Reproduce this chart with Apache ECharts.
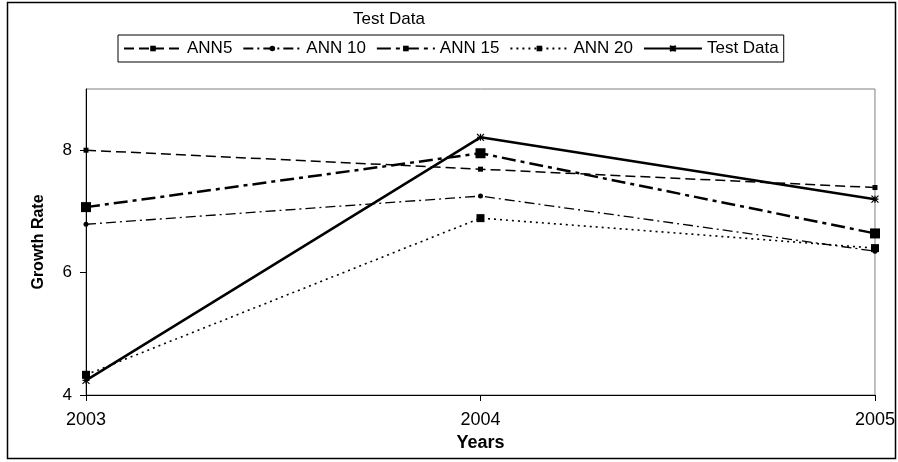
<!DOCTYPE html>
<html><head><meta charset="utf-8">
<script src="https://cdn.jsdelivr.net/npm/echarts@6/dist/echarts.min.js"></script>
<style>html,body{margin:0;padding:0;background:#fff}#c{width:898px;height:462px}</style>
</head><body><div id="c"></div>
<script>
const years = ['2003', '2004', '2005'];
const ann5 = [8.0, 7.69, 7.39];
const ann10 = [6.79, 7.25, 6.35];
const ann15 = [7.07, 7.95, 6.64];
const ann20 = [4.33, 6.89, 6.40];
const testData = [4.24, 8.21, 7.20];
const yTicks = [4, 6, 8];

const F = '"Liberation Sans", Arial, sans-serif';
const chart = echarts.init(document.getElementById('c'));
const star = 'path://M0,0L10,10M10,0L0,10M5,0L5,10M0,5L10,5';
function s(name, data, lw, type, symbol, size) {
  return {
    name, type: 'line', data, symbol, symbolSize: size,
    lineStyle: { color: '#000', width: lw, type: type },
    itemStyle: { color: '#000', borderColor: '#000', borderWidth: symbol === star ? 1.2 : 0 },
    emphasis: { disabled: true }, animation: false
  };
}
chart.setOption({
  animation: false,
  title: { text: 'Test Data', left: 384, top: 6, textAlign: 'center',
    textStyle: { fontFamily: F, fontSize: 17, fontWeight: 'normal', color: '#000' } },
  legend: {
    left: 118, top: 35,
    borderColor: '#000', borderWidth: 1, padding: [5, 5, 5, 5],
    itemWidth: 58, itemHeight: 7, itemGap: 10,
    textStyle: { fontFamily: F, fontSize: 17, color: '#000' },
    data: ['ANN5', 'ANN 10', 'ANN 15', 'ANN 20', 'Test Data']
  },
  graphic: [{ type: 'rect', shape: { x: 7.5, y: 2.5, width: 888, height: 456 },
    style: { fill: 'none', stroke: '#000', lineWidth: 1.5 }, silent: true, z: -1 }],
  grid: { left: 86, right: 23, top: 89, bottom: 67, show: true, borderColor: '#808080', borderWidth: 1 },
  xAxis: {
    type: 'category', data: years, boundaryGap: false,
    name: 'Years', nameLocation: 'middle', nameGap: 39,
    nameTextStyle: { fontFamily: F, fontSize: 18, fontWeight: 'bold', color: '#000' },
    axisLine: { lineStyle: { color: '#000', width: 1 } },
    axisTick: { show: true, length: 6, lineStyle: { color: '#000' } },
    axisLabel: { fontFamily: F, fontSize: 18, color: '#000', margin: 16 },
    splitLine: { show: false }
  },
  yAxis: {
    type: 'value', min: 4, max: 9, interval: 2,
    name: 'Growth Rate', nameLocation: 'middle', nameGap: 39, nameRotate: 90,
    nameTextStyle: { fontFamily: F, fontSize: 16, fontWeight: 'bold', color: '#000' },
    axisLine: { show: true, lineStyle: { color: '#000', width: 1 } },
    axisTick: { show: true, length: 6, customValues: yTicks, lineStyle: { color: '#000' } },
    axisLabel: { fontFamily: F, fontSize: 17, color: '#000', margin: 14, customValues: yTicks },
    splitLine: { show: false }
  },
  series: [
    s('ANN5', ann5, 1.5, [10, 5], 'rect', 5),
    s('ANN 10', ann10, 1.3, [10, 4, 2, 4], 'circle', 5),
    s('ANN 15', ann15, 2.5, [14, 5, 4, 5], 'rect', 10),
    s('ANN 20', ann20, 1.6, [2, 4], 'rect', 8),
    s('Test Data', testData, 2.5, 'solid', star, 7)
  ]
});
</script></body></html>
